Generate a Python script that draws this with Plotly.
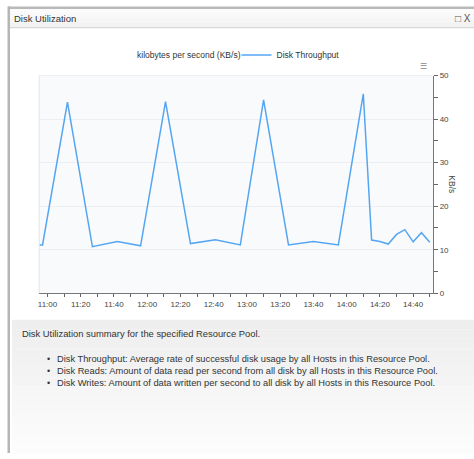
import plotly.graph_objects as go

# ---- data ----
day = "2024-01-01 "
times = ["10:55", "10:57", "11:12", "11:27", "11:42", "11:56", "12:11", "12:26",
         "12:41", "12:56", "13:10", "13:25", "13:40", "13:55", "14:10", "14:15",
         "14:20", "14:25", "14:30", "14:35", "14:40", "14:45", "14:50"]
throughput = [11.1, 11.1, 43.9, 10.7, 11.9, 10.9, 44.0, 11.4, 12.3, 11.1, 44.4,
              11.1, 11.9, 11.1, 45.8, 12.2, 11.9, 11.3, 13.5, 14.6, 11.8, 13.9, 11.7]
series_name = "Disk Throughput"
legend_prefix = "kilobytes per second (KB/s)"
y_title = "KB/s"
panel_title = "Disk Utilization"
summary_title = "Disk Utilization summary for the specified Resource Pool."
bullets = [
    "Disk Throughput: Average rate of successful disk usage by all Hosts in this Resource Pool.",
    "Disk Reads: Amount of data read per second from all disk by all Hosts in this Resource Pool.",
    "Disk Writes: Amount of data written per second to all disk by all Hosts in this Resource Pool.",
]

W, H = 474, 459


def px(x):
    return x / W


def py(y):
    return 1 - y / H


FONT = "Liberation Sans, Arial, sans-serif"

fig = go.Figure()
fig.add_trace(go.Scatter(
    x=[day + t for t in times], y=throughput, mode="lines", name=series_name,
    line=dict(color="#55a6f2", width=1.5), showlegend=True,
))

shapes = []
# top gray bar and left border
shapes.append(dict(type="rect", xref="paper", yref="paper", x0=px(7), x1=1, y0=py(5), y1=py(2.5),
                   fillcolor="#b9b9b9", line_width=0, layer="below"))
# header bar
hdr_cols = ["#fbfbfb", "#f8f8f8", "#f5f5f5", "#f2f2f2"]
for i, c in enumerate(hdr_cols):
    y0 = 5 + i * 19 / len(hdr_cols)
    y1 = 5 + (i + 1) * 19 / len(hdr_cols)
    shapes.append(dict(type="rect", xref="paper", yref="paper", x0=px(8), x1=1, y0=py(y1), y1=py(y0),
                       fillcolor=c, line_width=0, layer="below"))
shapes.append(dict(type="line", xref="paper", yref="paper", x0=px(8), x1=1, y0=py(24), y1=py(24),
                   line=dict(color="#d8d8d8", width=1.2), layer="below"))
shapes.append(dict(type="rect", xref="paper", yref="paper", x0=px(6.5), x1=px(9), y0=py(458), y1=py(2.5),
                   fillcolor="#b5b5b5", line_width=0, layer="below"))
# bottom summary panel gradient
n = 14
for i in range(n):
    t = i / (n - 1)
    v = int(round(0xee + (0xfc - 0xee) * t))
    c = "#%02x%02x%02x" % (v, v, v)
    y0 = 322 + i * (459 - 322) / n
    y1 = 322 + (i + 1) * (459 - 322) / n
    shapes.append(dict(type="rect", xref="paper", yref="paper", x0=px(11), x1=1, y0=py(y1), y1=py(y0),
                       fillcolor=c, line_width=0, layer="below"))
# plot area faint left/top borders
shapes.append(dict(type="line", xref="x domain", yref="y domain", x0=0, x1=0, y0=0, y1=1,
                   line=dict(color="#e2e4e8", width=1)))
shapes.append(dict(type="line", xref="x domain", yref="y domain", x0=0, x1=1, y0=1, y1=1,
                   line=dict(color="#eceef1", width=1)))

annotations = [
    dict(text=panel_title, xref="paper", yref="paper", x=px(11), y=py(15), xanchor="left", yanchor="middle",
         showarrow=False, font=dict(family=FONT, size=9.5, color="#333333")),
    dict(text="□ X", xref="paper", yref="paper", x=px(473), y=py(15), xanchor="right", yanchor="middle",
         showarrow=False, font=dict(family=FONT, size=10, color="#555555")),
    dict(text=legend_prefix, xref="paper", yref="paper", x=px(243), y=py(52), xanchor="right", yanchor="middle",
         showarrow=False, font=dict(family=FONT, size=8.5, color="#333333")),
    dict(text=y_title, xref="paper", yref="paper", x=px(452), y=py(184), xanchor="center", yanchor="middle",
         textangle=90, showarrow=False, font=dict(family=FONT, size=8.5, color="#444444")),
    dict(text="☰", xref="paper", yref="paper", x=px(423), y=py(64), xanchor="center", yanchor="middle",
         showarrow=False, font=dict(family=FONT, size=8, color="#888888")),
    dict(text=summary_title, xref="paper", yref="paper", x=px(19), y=py(336), xanchor="left", yanchor="middle",
         showarrow=False, font=dict(family=FONT, size=9.4, color="#333333")),
]
for i, b in enumerate(bullets):
    yy = 362 + i * 12.4
    annotations.append(dict(text="•", xref="paper", yref="paper", x=px(44), y=py(yy), xanchor="left",
                            yanchor="middle", showarrow=False, font=dict(family=FONT, size=9, color="#333333")))
    annotations.append(dict(text=b, xref="paper", yref="paper", x=px(54), y=py(yy), xanchor="left",
                            yanchor="middle", showarrow=False, font=dict(family=FONT, size=9.3, color="#333333")))

fig.update_layout(
    width=W, height=H, margin=dict(l=0, r=0, t=0, b=0), autosize=False,
    paper_bgcolor="white", plot_bgcolor="#f9fafc",
    font=dict(family=FONT, size=8.5, color="#444444"),
    showlegend=True,
    legend=dict(orientation="h", x=px(236), y=py(52), xanchor="left", yanchor="middle",
                bgcolor="rgba(0,0,0,0)", font=dict(family=FONT, size=8.5, color="#333333"),
                itemwidth=30, borderwidth=0),
    xaxis=dict(
        type="date", domain=[px(38.3), px(433)],
        range=[day + "10:55", day + "14:52"],
        tickformat="%H:%M", tick0=day + "11:00", dtick=20 * 60 * 1000,
        ticks="outside", ticklen=3, tickcolor="#666666", showline=True, linecolor="#777777", linewidth=1,
        showgrid=False, zeroline=False,
        minor=dict(dtick=10 * 60 * 1000, tick0=day + "11:00", ticks="outside", ticklen=3, tickcolor="#666666"),
        tickfont=dict(size=8, color="#444444"),
    ),
    yaxis=dict(
        side="right", domain=[py(295), py(73)], range=[0, 50], dtick=10,
        ticks="outside", ticklen=4, tickcolor="#666666", showline=True, linecolor="#777777", linewidth=1,
        showgrid=True, gridcolor="#eceef2", zeroline=False,
        minor=dict(dtick=5, ticks="outside", ticklen=4, tickcolor="#666666", showgrid=False),
        tickfont=dict(size=8, color="#444444"),
    ),
    shapes=shapes, annotations=annotations,
)

fig.write_html("out.html", config={"displayModeBar": False},
               post_script="document.body.style.margin='0';document.body.style.overflow='hidden';")
